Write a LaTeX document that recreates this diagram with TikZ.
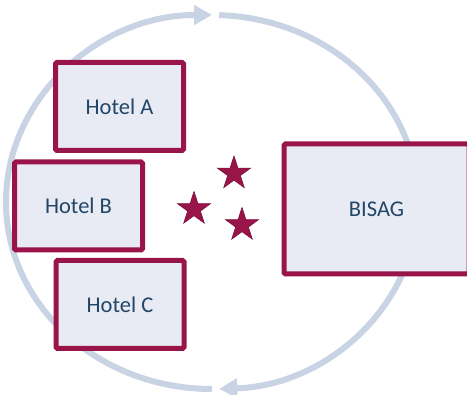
\documentclass[tikz,border=0pt]{standalone}
\usepackage{fontspec}
\setmainfont{Carlito}
\usetikzlibrary{shapes.geometric}
\usetikzlibrary{arrows.meta}
\definecolor{berry}{RGB}{153,21,73}
\definecolor{paleblue}{RGB}{232,235,243}
\definecolor{ringgrey}{RGB}{200,211,227}
\definecolor{inkblue}{RGB}{34,70,104}

\begin{document}
\begin{tikzpicture}
[every node/.style={inner sep=0pt, font=\fontsize{22.5pt}{26pt}\selectfont},
 hotelbox/.style={rectangle, rounded corners=1.5pt, minimum width=128pt, minimum height=88pt, fill=paleblue, line width=5pt, draw=berry},
 starmark/.style={star, star points=5, star point ratio=2.618, minimum size=35pt, fill=berry, line width=0.6pt, draw=berry!80!black},
 ringline/.style={line width=6pt, color=ringgrey, -{Triangle[width=19pt, length=18pt]}}]
\clip (0pt, 0pt) rectangle (467pt, -395pt);
\coordinate (hub) at (212pt, -202pt);
% cycle ring
\draw [ringline] ([shift={(270:206pt and 187pt)}]hub) arc [start angle=270, end angle=90, x radius=206pt, y radius=187pt];
\draw [ringline] ([shift={(88:206pt and 187pt)}]hub) arc [start angle=88, end angle=-88, x radius=206pt, y radius=187pt];
\node (hotelA) [hotelbox] at (119.5pt, -106.5pt) {\textcolor{inkblue}{Hotel A}};
\node (hotelB) [hotelbox] at (78.5pt, -206pt) {\textcolor{inkblue}{Hotel B}};
\node (hotelC) [hotelbox] at (120pt, -304.5pt) {\textcolor{inkblue}{Hotel C}};
\node (bisag) [hotelbox, minimum width=185pt, minimum height=130pt] at (376.5pt, -209pt) {\textcolor{inkblue}{BISAG}};
\node (star1) [starmark] at (234pt, -173.5pt) {};
\node (star2) [starmark] at (194pt, -209pt) {};
\node (star3) [starmark] at (242pt, -225pt) {};

\end{tikzpicture}
\end{document}
